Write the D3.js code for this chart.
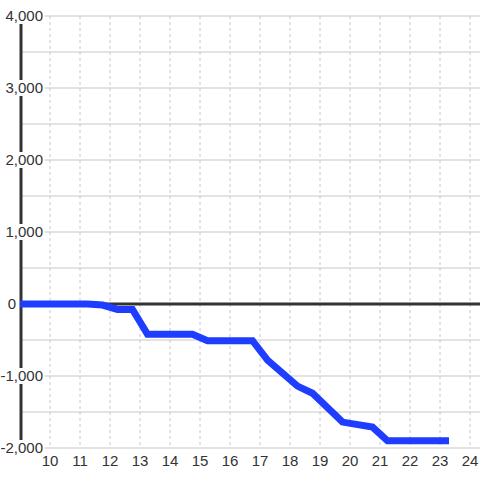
<!DOCTYPE html>
<html lang="en">
<head>
    <meta charset="UTF-8">
    <title>Chart</title>
    <script src="https://cdn.jsdelivr.net/npm/d3@7"></script>
    <style>
      body { margin: 0; background: #fff; }
      text { font-family: "Liberation Sans", Arial, sans-serif; font-size: 15px; fill: #333; }
      .grid-h { stroke: #c8c8c8; stroke-width: 1.2px; }
      .grid-v { stroke: #c8c8c8; stroke-width: 1px; stroke-dasharray: 3,3; }
    </style>
</head>
<body>
    <svg width="480" height="480"></svg>
    <script>
        // data
        var hours  = [9, 11.25, 11.75, 12.25, 12.75, 13.25, 14.75, 15.25, 16.75, 17.25, 18.25, 18.75, 19.75, 20.75, 21.25, 23.3];
        var values = [0, 0, -15, -75, -75, -420, -420, -510, -510, -780, -1140, -1240, -1640, -1710, -1900, -1900];
        var xTicks = [10, 11, 12, 13, 14, 15, 16, 17, 18, 19, 20, 21, 22, 23, 24];
        var yTicks = [-2000, -1000, 0, 1000, 2000, 3000, 4000];
        var yGrid  = [-2000, -1500, -1000, -500, 0, 500, 1000, 1500, 2000, 2500, 3000, 3500, 4000];

        var svg = d3.select("svg"),
            width = +svg.attr("width"),
            height = +svg.attr("height");

        var x = d3.scaleLinear().domain([9, 24.333]).range([20, 480]);
        var y = d3.scaleLinear().domain([-2000, 4000]).range([448, 16]);

        // horizontal grid
        svg.selectAll(".grid-h")
          .data(yGrid)
          .enter().append("line")
            .attr("class", "grid-h")
            .attr("x1", 22).attr("x2", width)
            .attr("y1", function(d) { return y(d); })
            .attr("y2", function(d) { return y(d); });

        // vertical dashed grid
        svg.selectAll(".grid-v")
          .data(xTicks)
          .enter().append("line")
            .attr("class", "grid-v")
            .attr("x1", function(d) { return x(d); })
            .attr("x2", function(d) { return x(d); })
            .attr("y1", y(4000)).attr("y2", y(-2000));

        // left axis line
        svg.append("line")
            .attr("x1", 21).attr("x2", 21)
            .attr("y1", y(4000) + 8).attr("y2", y(-2000))
            .attr("stroke", "#333").attr("stroke-width", 3);

        // zero line
        svg.append("line")
            .attr("x1", 22).attr("x2", width)
            .attr("y1", y(0)).attr("y2", y(0))
            .attr("stroke", "#333").attr("stroke-width", 3);

        // y labels
        var fmt = d3.format(",");
        var yl = svg.selectAll(".ylab")
          .data(yTicks)
          .enter().append("g")
            .attr("class", "ylab")
            .attr("transform", function(d) { return "translate(" + (d === 0 ? 16 : 43) + "," + y(d) + ")"; });

        yl.filter(function(d) { return d !== 0; })
          .append("rect")
            .attr("x", -42).attr("y", -8)
            .attr("width", 44).attr("height", 16)
            .attr("fill", "#fff");

        yl.append("text")
            .attr("text-anchor", "end")
            .attr("dy", "0.36em")
            .text(function(d) { return fmt(d).replace("−", "-"); });

        // x labels
        svg.selectAll(".xlab")
          .data(xTicks)
          .enter().append("text")
            .attr("class", "xlab")
            .attr("x", function(d) { return x(d); })
            .attr("y", 466)
            .attr("text-anchor", "middle")
            .text(function(d) { return d; });

        // series
        var line = d3.line()
            .x(function(d, i) { return x(hours[i]); })
            .y(function(d) { return y(d); });

        svg.append("path")
            .datum(values)
            .attr("d", line)
            .attr("fill", "none")
            .attr("stroke", "#1f3dff")
            .attr("stroke-width", 7)
            .attr("stroke-linejoin", "miter");
    </script>
</body>
</html>
